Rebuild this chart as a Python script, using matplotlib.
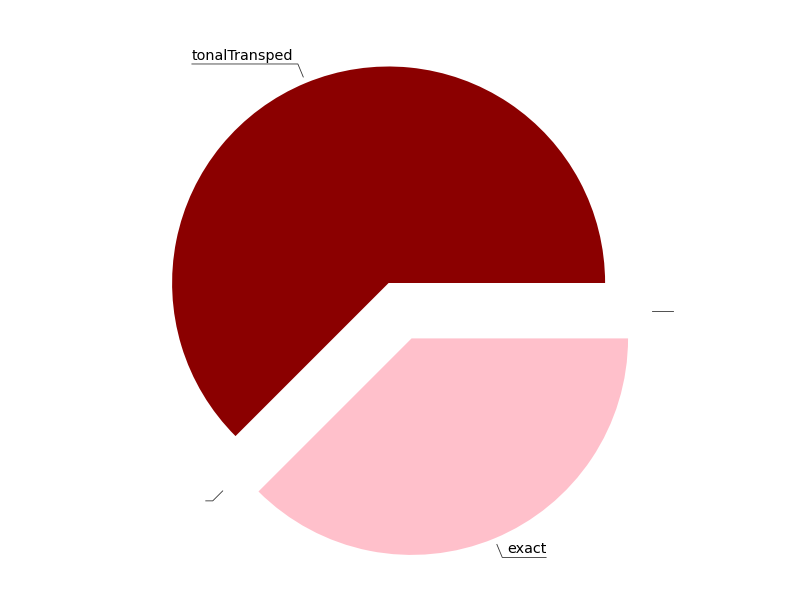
import matplotlib.pyplot as plt
import numpy as np

# 資料
labels = ['tonalTransped', '', 'exact', '']
values = [62.5, 0, 37.5, 0]
colors = ['darkred', 'white', 'pink', 'white']
explode = [0, 0, 0.277, 0]

# 空白標籤的引線位置微調 (資料單位)
label_shift = [(0, 0), (-0.038, -0.232), (0, 0), (0.187, -0.129)]

R_PX = 216.5          # 半徑 (像素)
CX, CY = 388.6, 283   # 圓心 (像素, 從左上角)

fig = plt.figure(figsize=(8, 6), dpi=100)
ax = fig.add_axes([0, 0, 1, 1])
wedges, _ = ax.pie(values, colors=colors, explode=explode, startangle=0,
                   counterclock=True, radius=1)
ax.set_xlim(-CX / R_PX, (800 - CX) / R_PX)
ax.set_ylim(-(600 - CY) / R_PX, CY / R_PX)
ax.axis('off')

renderer = fig.canvas.get_renderer()
px = 1.0 / R_PX


def leader(cx, cy, ang, text):
    a = np.deg2rad(ang)
    x0, y0 = cx + 1.03 * np.cos(a), cy + 1.03 * np.sin(a)
    x1, y1 = cx + 1.095 * np.cos(a), cy + 1.095 * np.sin(a)
    side = 1 if np.cos(a) >= -1e-9 else -1
    t = ax.text(x1 + side * 4.5 * px, y1 + 1 * px, text, fontsize=10.4,
                ha='left' if side > 0 else 'right', va='bottom', color='black')
    w = t.get_window_extent(renderer).width if text else 2.5
    x2 = x1 + side * (4.5 + w) * px
    ax.plot([x0, x1, x2], [y0, y1, y1], color='#333333', lw=0.6)


for w, lab, (dx, dy) in zip(wedges, labels, label_shift):
    ang = (w.theta1 + w.theta2) / 2
    cx, cy = w.center
    leader(cx + dx, cy + dy, ang, lab)

fig.savefig('out.png', dpi=100)
